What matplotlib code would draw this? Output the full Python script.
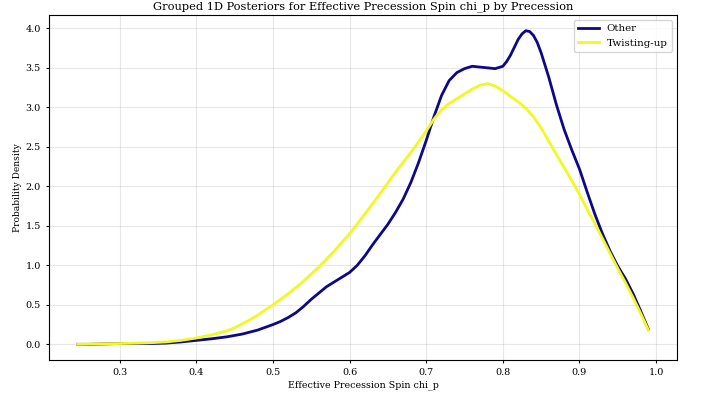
import matplotlib
matplotlib.use("Agg")
import matplotlib.pyplot as plt

# chi_p grid points and posterior densities
other_x = [0.245, 0.26, 0.28, 0.30, 0.32, 0.34, 0.36, 0.38, 0.40, 0.42,
           0.44, 0.46, 0.48, 0.50, 0.51, 0.52, 0.53, 0.54, 0.55, 0.56,
           0.57, 0.58, 0.59, 0.60, 0.61, 0.62, 0.63, 0.64, 0.65, 0.66,
           0.67, 0.68, 0.69, 0.70, 0.71, 0.72, 0.73, 0.74, 0.75, 0.76,
           0.77, 0.78, 0.79, 0.80, 0.805, 0.81, 0.815, 0.82, 0.825, 0.83,
           0.835, 0.84, 0.845, 0.85, 0.86, 0.87, 0.88, 0.89, 0.90, 0.91,
           0.92, 0.93, 0.94, 0.95, 0.96, 0.97, 0.98, 0.99]
other_y = [0.00, 0.00, 0.005, 0.01, 0.012, 0.01, 0.015, 0.03, 0.05, 0.07,
           0.095, 0.13, 0.18, 0.25, 0.29, 0.34, 0.40, 0.48, 0.57, 0.65,
           0.73, 0.79, 0.85, 0.91, 1.00, 1.12, 1.26, 1.39, 1.52, 1.67,
           1.84, 2.05, 2.30, 2.58, 2.88, 3.15, 3.34, 3.44, 3.49, 3.52,
           3.51, 3.50, 3.49, 3.52, 3.58, 3.66, 3.76, 3.86, 3.93, 3.97,
           3.96, 3.91, 3.82, 3.69, 3.38, 3.03, 2.72, 2.46, 2.22, 1.93,
           1.65, 1.40, 1.18, 0.99, 0.83, 0.64, 0.42, 0.19]

twist_x = [0.245, 0.30, 0.34, 0.36, 0.38, 0.40, 0.42, 0.44, 0.45, 0.46,
           0.47, 0.48, 0.50, 0.52, 0.54, 0.56, 0.58, 0.60, 0.62, 0.64,
           0.66, 0.68, 0.69, 0.70, 0.71, 0.72, 0.73, 0.74, 0.75, 0.76,
           0.77, 0.78, 0.79, 0.80, 0.81, 0.82, 0.83, 0.84, 0.85, 0.86,
           0.87, 0.88, 0.89, 0.90, 0.91, 0.92, 0.93, 0.94, 0.95, 0.96,
           0.97, 0.98, 0.99]
twist_y = [0.00, 0.01, 0.02, 0.03, 0.05, 0.08, 0.12, 0.17, 0.21, 0.26,
           0.31, 0.37, 0.50, 0.64, 0.80, 0.98, 1.18, 1.40, 1.65, 1.91,
           2.18, 2.43, 2.56, 2.70, 2.85, 2.97, 3.05, 3.11, 3.17, 3.23,
           3.28, 3.30, 3.27, 3.21, 3.14, 3.07, 2.99, 2.88, 2.74, 2.57,
           2.40, 2.24, 2.07, 1.90, 1.71, 1.53, 1.34, 1.15, 0.96, 0.78,
           0.59, 0.39, 0.18]

plt.rcParams["font.family"] = "DejaVu Serif"

fig, ax = plt.subplots(figsize=(7.04, 3.96), dpi=100)
ax.plot(other_x, other_y, color="#0d0887", linewidth=2.0, label="Other")
ax.plot(twist_x, twist_y, color="#f0f921", linewidth=2.0, label="Twisting-up")

ax.set_xlabel("Effective Precession Spin chi_p", fontsize=6.8, labelpad=2)
ax.set_ylabel("Probability Density", fontsize=6.6, labelpad=2.5)
ax.set_title("Grouped 1D Posteriors for Effective Precession Spin chi_p by Precession", fontsize=8.2, pad=4)
ax.tick_params(labelsize=6.9, length=2.5)
ax.grid(True, alpha=0.3)
ax.legend(loc="upper right", fontsize=7.4)

fig.subplots_adjust(left=0.0696, right=0.9616, top=0.962, bottom=0.0909)
fig.savefig("out.png", dpi=100)
